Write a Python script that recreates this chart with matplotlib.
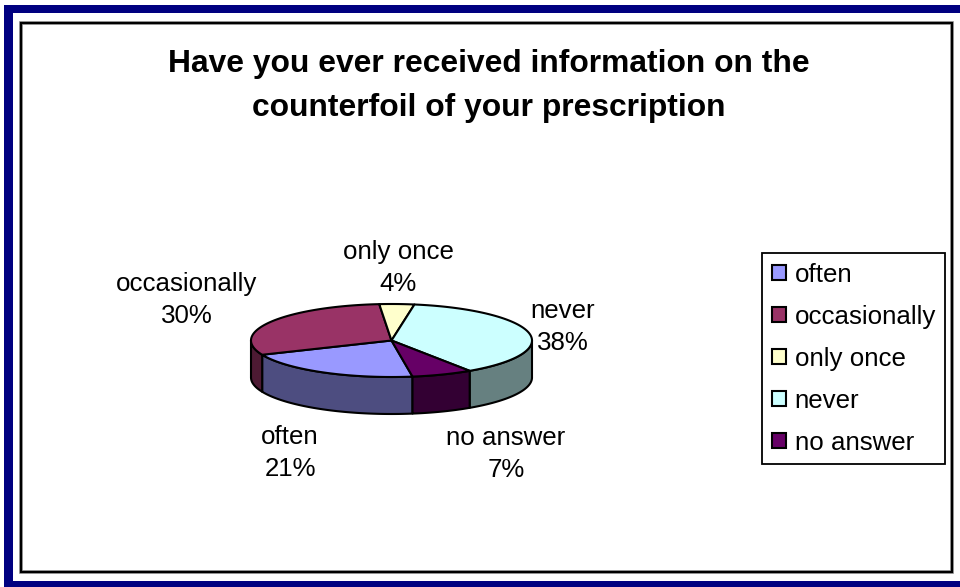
import numpy as np
import matplotlib
matplotlib.use("Agg")
import matplotlib.pyplot as plt
from matplotlib.patches import Rectangle, Patch

categories = ["often", "occasionally", "only once", "never", "no answer"]
shares = [21, 30, 4, 38, 7]
top_colors = ["#9999FF", "#993366", "#FFFFCC", "#CCFFFF", "#660066"]
side_colors = ["#4D4D80", "#4D1A33", "#808066", "#668080", "#330033"]
title_lines = ["Have you ever received information on the",
               "counterfoil of your prescription"]

plt.rcParams["font.family"] = ["Liberation Sans", "DejaVu Sans"]
fig = plt.figure(figsize=(9.6, 5.87), dpi=100, facecolor="white")
ax = fig.add_axes([0, 0, 1, 1])
ax.set_xlim(0, 960)
ax.set_ylim(587, 0)
ax.axis("off")

NAVY = "#000080"
ax.add_patch(Rectangle((4, 5), 956, 8, fc=NAVY, ec="none"))
ax.add_patch(Rectangle((4, 5), 9, 582, fc=NAVY, ec="none"))
ax.add_patch(Rectangle((4, 581), 956, 6, fc=NAVY, ec="none"))
ax.add_patch(Rectangle((21, 23), 931, 549, fc="white", ec="#808080", lw=2.6))
ax.add_patch(Rectangle((21, 23), 931, 549, fc="none", ec="black", lw=1.5))

cx, cy, a, b, depth = 391.5, 340.5, 140.5, 36.5, 37
start = 171.4


def px(t):
    return cx + a * np.sin(np.radians(t))


def py(t):
    return cy - b * np.cos(np.radians(t))


edges = start + np.cumsum([0] + shares) * 3.6
spans = [(edges[i], edges[i + 1]) for i in range(len(shares))]

# side walls: only the part of each slice on the front half (90..270 deg)
for (t0, t1), col in zip(spans, side_colors):
    for shift in (0, -360, 360):
        lo, hi = max(t0 + shift, 90), min(t1 + shift, 270)
        if lo < hi:
            t = np.linspace(lo, hi, 80)
            xs = np.r_[px(t), px(t)[::-1]]
            ys = np.r_[py(t), py(t)[::-1] + depth]
            ax.fill(xs, ys, fc=col, ec="black", lw=1.5, joinstyle="round", zorder=2)

# top faces
for (t0, t1), col in zip(spans, top_colors):
    t = np.linspace(t0, t1, 120)
    ax.fill(np.r_[cx, px(t)], np.r_[cy, py(t)], fc=col, ec="black", lw=1.5,
            joinstyle="round", zorder=3)

FS = 18.6
label_pos = [(290, 453), (187, 300), (398, 268), (563, 327), (506, 454)]
for name, v, (x, y) in zip(categories, shares, label_pos):
    ax.text(x, y, f"{name}\n{v}%", ha="center", va="center", fontsize=FS,
            color="black", linespacing=1.42, zorder=5)

for line, y in zip(title_lines, (64, 108)):
    ax.text(489, y, line, ha="center", va="center", fontsize=22.85,
            fontweight="bold", color="black", zorder=5)

handles = [Patch(fc=c, ec="black", lw=1.5) for c in top_colors]
leg = ax.legend(handles, categories, loc="upper left",
                bbox_to_anchor=(762 / 960, 1 - 253 / 587), bbox_transform=fig.transFigure,
                fontsize=FS, frameon=True, fancybox=False, framealpha=1,
                edgecolor="black", borderaxespad=0, borderpad=0.37,
                labelspacing=0.70, handlelength=0.54, handleheight=0.54,
                handletextpad=0.35)
leg.get_frame().set_linewidth(1.3)
leg.set_zorder(6)

fig.savefig("out.png", dpi=100)
